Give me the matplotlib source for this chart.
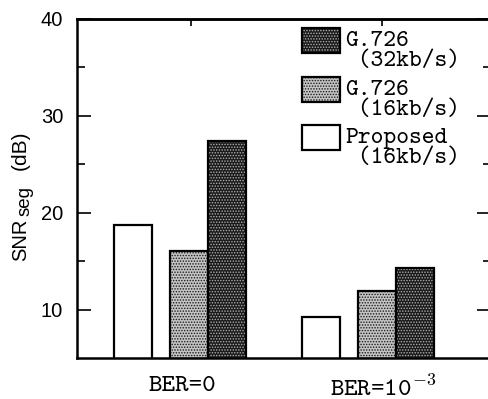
import matplotlib
matplotlib.use('Agg')
import matplotlib.pyplot as plt
from matplotlib.patches import Rectangle
import numpy as np

# ---- data ----
groups = ['BER=0', r'BER=10$^{-3}$']
series_names = ['G.726\n (32kb/s)', 'G.726\n (16kb/s)', 'Proposed\n (16kb/s)']
proposed = [18.7, 9.2]
g726_16 = [16.0, 11.9]
g726_32 = [27.4, 14.3]
yticks = [10, 20, 30, 40]
yminor = [15, 25, 35]

plt.rcParams['hatch.linewidth'] = 0.7
plt.rcParams['mathtext.fontset'] = 'cm'
W, H = 489, 399
MONO = 'cmtt10'

fig = plt.figure(figsize=(W / 100, H / 100), dpi=100)
ax = fig.add_axes([77 / W, 1 - 358 / H, 414 / W, 339 / H])

x = np.arange(len(groups))
w = 0.202
LIGHT_FACE, LIGHT_DOT = '#c4c4c4', '#1a1a1a'
DARK_FACE, DARK_DOT = '#1a1a1a', '#b0b0b0'


def draw_bars(xpos, vals, kind):
    if kind == 'white':
        ax.bar(xpos, vals, w, color='white', edgecolor='black', lw=1.6, zorder=2)
    elif kind == 'light':
        ax.bar(xpos, vals, w, color=LIGHT_FACE, edgecolor=LIGHT_DOT, hatch='......', lw=0, zorder=2)
        ax.bar(xpos, vals, w, fill=False, edgecolor='black', lw=1.6, zorder=3)
    else:
        ax.bar(xpos, vals, w, color=DARK_FACE, edgecolor=DARK_DOT, hatch='......', lw=0, zorder=2)
        ax.bar(xpos, vals, w, fill=False, edgecolor='black', lw=1.6, zorder=3)


draw_bars(x - 0.298, proposed, 'white')
draw_bars(x + 0.0, g726_16, 'light')
draw_bars(x + 0.202, g726_32, 'dark')

ax.set_xlim(-0.596, 1.606)
ax.set_ylim(5, 40)

ax.set_yticks(yticks)
ax.set_yticks(yminor, minor=True)
ax.set_yticklabels([str(v) for v in yticks], fontfamily='Liberation Sans', fontsize=14.5)
ax.tick_params(axis='y', which='both', direction='in', left=True, right=True, width=1.2, pad=10)
ax.tick_params(axis='y', which='major', length=10)
ax.tick_params(axis='y', which='minor', length=6)

ax.set_xticks([-0.035, 1.03])
ax.set_xticklabels(groups, fontfamily=MONO, fontsize=18.5)
ax.tick_params(axis='x', which='both', length=0, pad=13)

sec = ax.secondary_xaxis('top')
sec.set_xticks([0.01, 1.027])
sec.set_xticklabels(['', ''])
sec.tick_params(axis='x', direction='in', length=5, width=1.2)
sec.spines['top'].set_linewidth(1.8)

for s in ax.spines.values():
    s.set_linewidth(1.8)

# ---- y label in pieces (rotated) ----
for txt, px, py, fs in [('SNR', 26, 261, 14.5), ('seg', 29.5, 216, 13.5), ('(dB)', 26, 170, 15)]:
    fig.text(px / W, 1 - py / H, txt, rotation=90, rotation_mode='anchor',
             ha='left', va='baseline', fontfamily='Liberation Sans', fontsize=fs)

# ---- legend (manual) ----
kinds = ['dark', 'light', 'white']
tops = [28, 77, 125]
for name, kind, top in zip(series_names, kinds, tops):
    x0, y0 = 302 / W, 1 - (top + 25) / H
    pw, ph = 38 / W, 25 / H
    if kind == 'white':
        fig.patches.append(Rectangle((x0, y0), pw, ph, transform=fig.transFigure,
                                     facecolor='white', edgecolor='black', lw=1.6))
    else:
        face, dot = (LIGHT_FACE, LIGHT_DOT) if kind == 'light' else (DARK_FACE, DARK_DOT)
        fig.patches.append(Rectangle((x0, y0), pw, ph, transform=fig.transFigure,
                                     facecolor=face, edgecolor=dot, hatch='......', lw=0))
        fig.patches.append(Rectangle((x0, y0), pw, ph, transform=fig.transFigure,
                                     fill=False, edgecolor='black', lw=1.6))
    fig.text(345 / W, 1 - (top + 3) / H, name, fontfamily=MONO, fontsize=17.5,
             va='top', ha='left', linespacing=0.92)

fig.savefig('out.png', dpi=100)
